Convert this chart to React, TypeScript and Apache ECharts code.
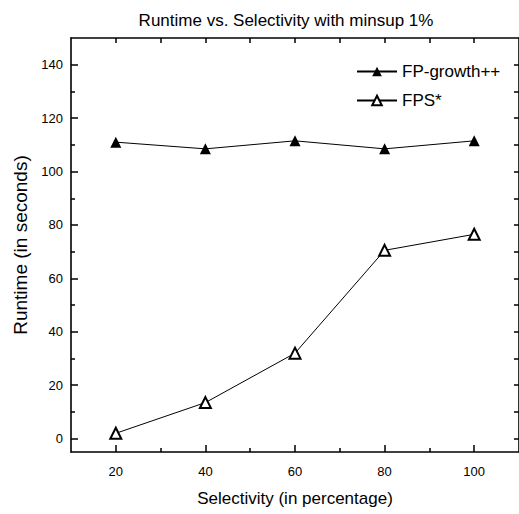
import React, { useEffect, useRef } from "react";
import * as echarts from "echarts";

const selectivity = [20, 40, 60, 80, 100];
const fpGrowth = [111, 108.5, 111.5, 108.5, 111.5];
const fpsStar = [2, 13.5, 32, 70.5, 76.5];
const xMajorTicks = [20, 40, 60, 80, 100];
const xMinorTicks = [30, 50, 70, 90];
const xTopTicks = [20, 30, 40, 50, 60, 70, 80, 90, 100];
const yMajorTicks = [0, 20, 40, 60, 80, 100, 120, 140];
const yMinorTicks = [10, 30, 50, 70, 90, 110, 130];
const yRightTicks = [0, 10, 20, 30, 40, 50, 60, 70, 80, 90, 100, 110, 120, 130, 140];
const titleText = "Runtime vs. Selectivity with minsup 1%";
const xName = "Selectivity (in percentage)";
const yName = "Runtime (in seconds)";

const FONT = "'Liberation Sans', Arial, sans-serif";
const X_MIN = 10;
const X_MAX = 110;
const Y_MIN = -5;
const Y_MAX = 150;

export default function App() {
  const ref = useRef<HTMLDivElement>(null);
  useEffect(() => {
    if (!ref.current) return;
    const chart = echarts.init(ref.current, null, { renderer: "svg" });
    const tickLine = { color: "#000", width: 1.5 };
    const mkX = (position: string, ticks: number[], len: number, showLine: boolean, extra: any = {}) => ({
      type: "value",
      position,
      min: X_MIN,
      max: X_MAX,
      axisLine: { show: showLine, onZero: false, lineStyle: { color: "#000", width: 1.6 } },
      splitLine: { show: false },
      axisTick: { show: true, inside: true, length: len, customValues: ticks, lineStyle: tickLine },
      axisLabel: { show: false },
      ...extra,
    });
    const mkY = (position: string, ticks: number[], len: number, showLine: boolean, extra: any = {}) => ({
      type: "value",
      position,
      min: Y_MIN,
      max: Y_MAX,
      axisLine: { show: showLine, onZero: false, lineStyle: { color: "#000", width: 1.6 } },
      splitLine: { show: false },
      axisTick: { show: true, inside: true, length: len, customValues: ticks, lineStyle: tickLine },
      axisLabel: { show: false },
      ...extra,
    });
    chart.setOption({
      animation: false,
      backgroundColor: "#fff",
      textStyle: { fontFamily: FONT },
      title: {
        text: titleText,
        left: 281,
        textAlign: "center",
        top: 7,
        textStyle: { fontFamily: FONT, fontSize: 17, fontWeight: "normal", color: "#000" },
      },
      legend: {
        orient: "vertical",
        left: 351,
        top: 58,
        itemWidth: 40,
        itemHeight: 12,
        itemGap: 12,
        textStyle: { fontFamily: FONT, fontSize: 17, color: "#000" },
        data: ["FP-growth++", "FPS*"],
      },
      grid: { left: 71, top: 38, right: -2, bottom: 62 },
      xAxis: [
        mkX("bottom", xMajorTicks, 7, true, {
          name: xName,
          nameLocation: "middle",
          nameGap: 38,
          nameTextStyle: { fontFamily: FONT, fontSize: 17, color: "#000" },
          axisLabel: {
            show: true,
            customValues: xMajorTicks,
            color: "#000",
            fontFamily: FONT,
            fontSize: 13,
            margin: 13,
          },
        }),
        mkX("bottom", xMinorTicks, 4, false),
        mkX("top", xTopTicks, 5, true),
      ],
      yAxis: [
        mkY("left", yMajorTicks, 7, true, {
          name: yName,
          nameLocation: "middle",
          nameGap: 40,
          nameTextStyle: { fontFamily: FONT, fontSize: 19, color: "#000" },
          axisLabel: {
            show: true,
            customValues: yMajorTicks,
            color: "#000",
            fontFamily: FONT,
            fontSize: 13,
            margin: 8,
          },
        }),
        mkY("left", yMinorTicks, 4, false),
        mkY("right", yRightTicks, 5, true),
      ],
      series: [
        {
          name: "FP-growth++",
          type: "line",
          xAxisIndex: 0,
          yAxisIndex: 0,
          data: selectivity.map((x, i) => [x, fpGrowth[i]]),
          symbol: "triangle",
          symbolSize: 11,
          lineStyle: { color: "#000", width: 1 },
          itemStyle: { color: "#000" },
        },
        {
          name: "FPS*",
          type: "line",
          xAxisIndex: 0,
          yAxisIndex: 0,
          data: selectivity.map((x, i) => [x, fpsStar[i]]),
          symbol: "emptyTriangle",
          symbolSize: 11,
          lineStyle: { color: "#000", width: 1 },
          itemStyle: { color: "#000", borderWidth: 1.3 },
        },
      ],
    });
    return () => chart.dispose();
  }, []);
  return <div ref={ref} style={{ width: 519, height: 514, position: "absolute", left: 0, top: 0 }} />;
}
